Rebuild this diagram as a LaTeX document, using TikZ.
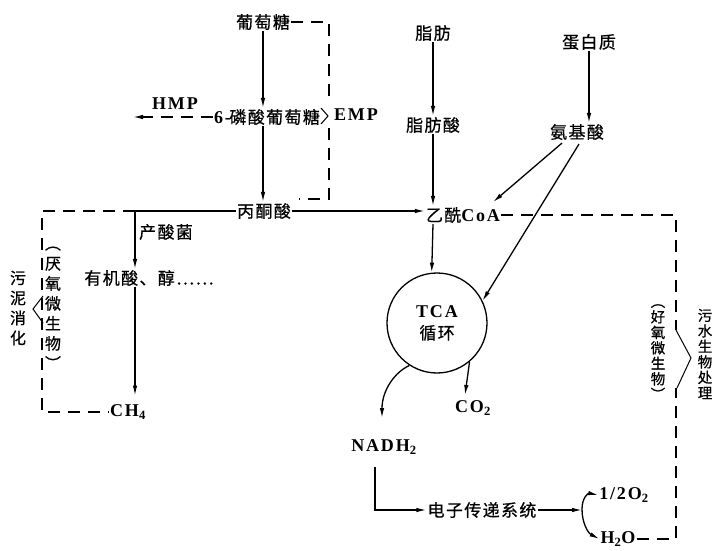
\documentclass[tikz,border=0pt]{standalone}
\usepackage{fontspec}
\setmainfont{Liberation Serif}
\newfontfamily\cjk[LetterSpace=8,FakeBold=0.6]{Noto Sans CJK SC}
\newfontfamily\latf[LetterSpace=10]{Liberation Serif}
\newcommand\LT[1]{{\fontsize{18}{20}\selectfont\latf\bfseries #1}}
\usetikzlibrary{arrows.meta,calc}
\begin{document}
\begin{tikzpicture}[x=1pt,y=-1pt,
  lbl/.style={font=\fontsize{17}{20}\selectfont\cjk, inner sep=1pt},
  arr/.style={line width=1.3pt,-{Latex[length=10pt,width=4.5pt]}},
  ln/.style={line width=1.3pt},
  thinln/.style={line width=1pt},
  dsh/.style={line width=1.3pt, dash pattern=on 12pt off 8pt},
  vlab/.style={font=\fontsize{14.5}{15.5}\selectfont\cjk, align=center, inner sep=0pt},
  vlabl/.style={font=\fontsize{16}{20}\selectfont\cjk, align=center, inner sep=0pt},
]
\useasboundingbox (0,0) rectangle (716,551);
% nodes
\node[lbl] (glc) at (263,22) {葡萄糖};
\node[lbl] (g6p) at (267,117) {\LT{6-}\kern-1.5pt 磷酸葡萄糖};
\node[lbl] (hmp) at (175,104) {\LT{HMP}};
\node[lbl] (emp) at (356,115) {\LT{EMP}};
\node[lbl] (pyr) at (264,211) {丙酮酸};
\node[lbl] (fat) at (433,33) {脂肪};
\node[lbl] (fa) at (433,125) {脂肪酸};
\node[lbl] (prot) at (589,42) {蛋白质};
\node[lbl] (aa) at (577,132) {氨基酸};
\node[lbl] (acoa) at (463,215) {乙酰\LT{CoA}};
\node[draw, circle, line width=1.3pt, minimum size=100pt, inner sep=0pt, align=center,
      font=\fontsize{17}{22}\selectfont\cjk] (tca) at (437,323) {\LT{TCA}\\循环};
\node[lbl] (co2) at (473,408) {\LT{CO\textsubscript{2}}};
\node[lbl] (nadh) at (384,447) {\LT{NADH\textsubscript{2}}};
\node[lbl] (ets) at (482,510) {电子传递系统};
\node[lbl] (o2) at (624,495) {\LT{1/2O\textsubscript{2}}};
\node[lbl] (h2o) at (618,539) {\LT{H\textsubscript{2}O}};
\node[lbl] (ch4) at (128,412) {\LT{CH\textsubscript{4}}};
\node[lbl] (org) at (149,278) {有机酸、醇……};
\node[lbl] (acb) at (166,232) {产酸菌};
\node[vlabl] (anaer) at (53,308) {︵\\厌\\氧\\微\\生\\物\\︶};
\node[vlabl] (sludge) at (18,308) {污\\泥\\消\\化};
\node[vlab] (aer) at (658,352) {︵\\好\\氧\\微\\生\\物\\︶};
\node[vlab] (ww) at (705,354) {污\\水\\生\\物\\处\\理};
\coordinate (sp) at (135,211);
\coordinate (br) at (582,509);
% glycolysis
\draw[arr] (glc.south) -- (glc.south |- g6p.north);
\draw[arr] (glc.south |- g6p.south) -- (glc.south |- pyr.north);
\draw[dsh] (glc.east) -| (329,103);
\draw[dsh] (329,128) -- (329,199) -- (299,199);
\draw[thinln] (321,108) -- (328,116) -- (321,124);
\draw[dsh,-{Latex[length=10pt,width=4.5pt]}] (g6p.west) -- (133,117);
% to acetyl CoA
\draw[arr] (pyr.east) -- (pyr.east -| acoa.west);
\draw[arr] (fat.south) -- (fa.north);
\draw[arr] (fa.south) -- (fa.south |- acoa.north);
\draw[arr] (prot.south) -- (prot.south |- aa.north);
\draw[arr] ($(aa.south)+(-15,2)$) -- ($(acoa.north east)+(-8,-4)$);
\draw[arr] ($(aa.south)+(2,3)$) -- (tca.26);
\draw[arr] (fa.south |- acoa.south) -- (tca.96);
% TCA outputs
\draw[arr] (tca.237) .. controls (395,372) and (382,390) .. (382,418);
\draw[arr] (tca.310) -- (465,395);
\draw[arr] ($(nadh.south)+(-9,12)$) |- (ets.west);
\draw[arr] (ets.east) -- (ets.east -| br);
\draw[arr] (br) .. controls (582,498) and (588,493) .. (o2.west);
\draw[arr] (br) .. controls (582,523) and (588,533) .. (h2o.west);
% aerobic loop
\draw[dsh] (acoa.east) -| (676,330);
\draw[dsh] (h2o.east) -| (676,388);
\draw[thinln] (676,330) -- (691,358) -- (677,388);
% anaerobic loop
\draw[ln] (pyr.west) -- (sp);
\draw[dsh] (sp) -- (42,211) -- (42,412) -- (ch4.west);
\draw[thinln] (43,296) -- (33,309) -- (43,323);
\draw[arr] (sp) -- (sp |- org.north);
\draw[arr, shorten >=8pt] (org.south -| sp) -- (sp |- ch4.north);
\end{tikzpicture}
\end{document}
